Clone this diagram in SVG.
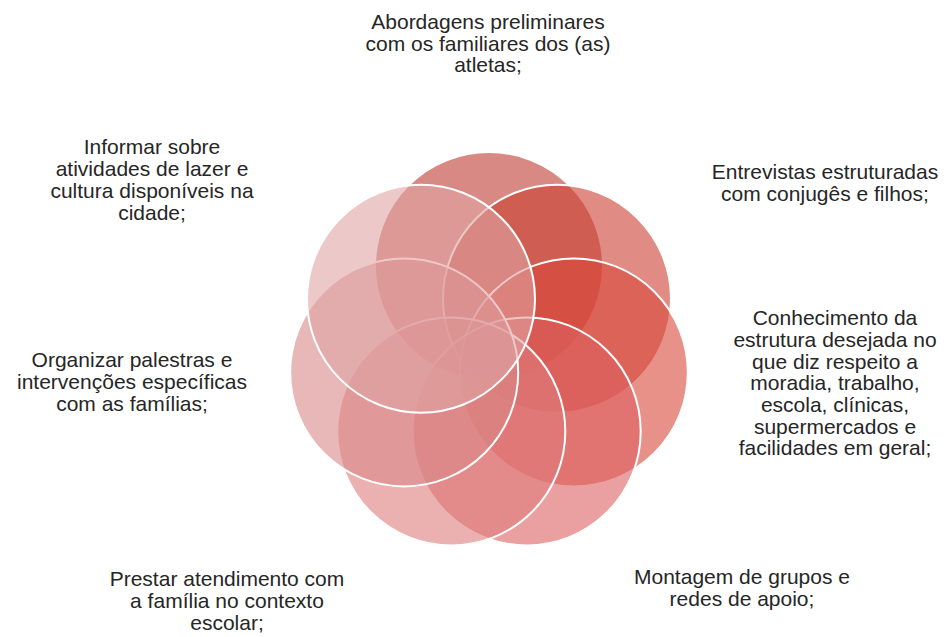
<svg xmlns="http://www.w3.org/2000/svg" width="946" height="637" viewBox="0 0 946 637">
<style>
  .c { stroke: #ffffff; stroke-width: 2; fill-opacity: 0.6; }
  .t { font-family: "Liberation Sans", Arial, sans-serif; font-size: 21px; fill: #262626; text-anchor: middle; }
</style>
<rect width="946" height="637" fill="#ffffff"/>
<g id="connectors"></g>
<g id="n1">
  <circle class="c" cx="489" cy="266" r="114" fill="#be3a30"/>
  <text class="t" x="488"><tspan x="488" y="29">Abordagens preliminares</tspan><tspan x="488" y="50.5">com os familiares dos (as)</tspan><tspan x="488" y="72">atletas;</tspan></text>
</g>
<g id="n2">
  <circle class="c" cx="557" cy="298.8" r="114" fill="#cb3f32"/>
  <text class="t"><tspan x="825" y="179">Entrevistas estruturadas</tspan><tspan x="825" y="201">com conjugês e filhos;</tspan></text>
</g>
<g id="n3">
  <circle class="c" cx="573.8" cy="372.4" r="114" fill="#d94839"/>
  <text class="t"><tspan x="835" y="325">Conhecimento da</tspan><tspan x="835" y="347">estrutura desejada no</tspan><tspan x="835" y="368.5">que diz respeito a</tspan><tspan x="835" y="390">moradia, trabalho,</tspan><tspan x="835" y="412">escola, clínicas,</tspan><tspan x="835" y="433.5">supermercados e</tspan><tspan x="835" y="455">facilidades em geral;</tspan></text>
</g>
<g id="n4">
  <circle class="c" cx="526.7" cy="431.4" r="114" fill="#dc6161"/>
  <text class="t"><tspan x="742" y="584">Montagem de grupos e</tspan><tspan x="742" y="606">redes de apoio;</tspan></text>
</g>
<g id="n5">
  <circle class="c" cx="451.3" cy="431.4" r="114" fill="#de7b7b"/>
  <text class="t"><tspan x="227" y="586">Prestar atendimento com</tspan><tspan x="227" y="608">a família no contexto</tspan><tspan x="227" y="630">escolar;</tspan></text>
</g>
<g id="n6">
  <circle class="c" cx="404.2" cy="372.4" r="114" fill="#d98989"/>
  <text class="t"><tspan x="132" y="367">Organizar palestras e</tspan><tspan x="132" y="389">intervenções específicas</tspan><tspan x="132" y="411">com as famílias;</tspan></text>
</g>
<g id="n7">
  <circle class="c" cx="421" cy="298.8" r="114" fill="#dfa3a3"/>
  <text class="t"><tspan x="152" y="154">Informar sobre</tspan><tspan x="152" y="176">atividades de lazer e</tspan><tspan x="152" y="198">cultura disponíveis na</tspan><tspan x="152" y="220">cidade;</tspan></text>
</g>
</svg>
